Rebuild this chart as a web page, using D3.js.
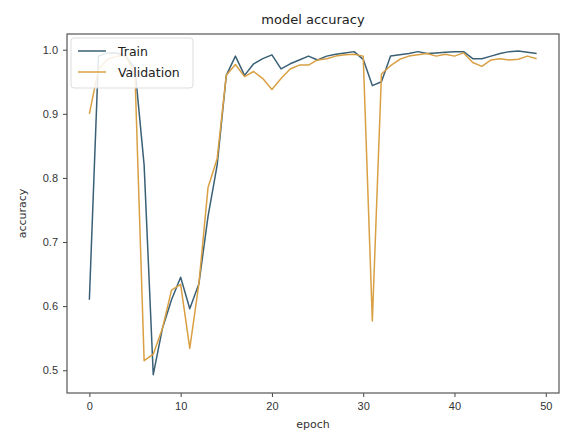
<!DOCTYPE html>
<html>
<head>
<meta charset="utf-8">
<script src="https://cdn.jsdelivr.net/npm/d3@7"></script>
<style>
  body { margin: 0; background: #fff; }
  svg { display: block; font-family: 'DejaVu Sans', sans-serif; }
</style>
</head>
<body>
<svg id="chart" width="568" height="432"></svg>
<script>
// values
var epochs = d3.range(50);
var trainAcc = [0.61, 0.99, 0.995, 0.995, 0.99, 0.97, 0.82, 0.493, 0.565, 0.61,
  0.645, 0.596, 0.635, 0.74, 0.82, 0.96, 0.99, 0.96, 0.978, 0.986,
  0.992, 0.97, 0.978, 0.984, 0.99, 0.984, 0.99, 0.993, 0.995, 0.997,
  0.985, 0.944, 0.95, 0.99, 0.992, 0.994, 0.997, 0.994, 0.995, 0.996,
  0.997, 0.997, 0.986, 0.986, 0.99, 0.994, 0.997, 0.998, 0.996, 0.994];
var valAcc = [0.90, 0.97, 0.985, 0.99, 0.99, 0.96, 0.515, 0.525, 0.565, 0.625,
  0.634, 0.534, 0.635, 0.785, 0.83, 0.96, 0.977, 0.958, 0.966, 0.955,
  0.938, 0.955, 0.97, 0.976, 0.976, 0.984, 0.986, 0.99, 0.992, 0.993,
  0.99, 0.577, 0.962, 0.975, 0.985, 0.99, 0.992, 0.994, 0.99, 0.993,
  0.99, 0.995, 0.98, 0.974, 0.984, 0.986, 0.984, 0.985, 0.99, 0.986];
var xTicks = [0, 10, 20, 30, 40, 50];
var yTicks = [0.5, 0.6, 0.7, 0.8, 0.9, 1.0];
var seriesNames = ['Train', 'Validation'];
var colours = ['#3a6076', '#d9a043'];

var svg = d3.select('#chart');
// plot box (note: "top" is taken by window.top, so use other names)
var plotL = 67, plotR = 559, plotT = 34, plotB = 393;

var x = d3.scaleLinear().domain([-2.45, 51.45]).range([plotL, plotR]);
var y = d3.scaleLinear().domain([0.4645, 1.0245]).range([plotB, plotT]);

// axes
svg.append('g')
  .attr('transform', 'translate(0,' + plotB + ')')
  .call(d3.axisBottom(x).tickValues(xTicks).tickFormat(d3.format('d')).tickSize(4).tickPadding(5))
  .call(function(g) { g.select('.domain').remove(); });

svg.append('g')
  .attr('transform', 'translate(' + plotL + ',0)')
  .call(d3.axisLeft(y).tickValues(yTicks).tickFormat(d3.format('.1f')).tickSize(4).tickPadding(5))
  .call(function(g) { g.select('.domain').remove(); });

svg.selectAll('.tick text')
  .style('font-size', '11px')
  .style('fill', '#333');
svg.selectAll('.tick line').attr('stroke', '#444');

// lines
var line = d3.line()
  .x(function(d, i) { return x(epochs[i]); })
  .y(function(d) { return y(d); });

[trainAcc, valAcc].forEach(function(s, k) {
  svg.append('path')
    .datum(s)
    .attr('fill', 'none')
    .attr('stroke', colours[k])
    .attr('stroke-width', 1.5)
    .attr('stroke-linejoin', 'round')
    .attr('d', line);
});

// frame
svg.append('rect')
  .attr('x', plotL).attr('y', plotT)
  .attr('width', plotR - plotL).attr('height', plotB - plotT)
  .attr('fill', 'none')
  .attr('stroke', '#555')
  .attr('stroke-width', 1.2);

// title and labels
svg.append('text')
  .attr('x', (plotL + plotR) / 2)
  .attr('y', 24)
  .attr('text-anchor', 'middle')
  .style('font-size', '13px')
  .style('fill', '#222')
  .text('model accuracy');

svg.append('text')
  .attr('x', (plotL + plotR) / 2)
  .attr('y', 428)
  .attr('text-anchor', 'middle')
  .style('font-size', '11px')
  .style('fill', '#333')
  .text('epoch');

svg.append('text')
  .attr('transform', 'translate(26,' + ((plotT + plotB) / 2) + ') rotate(-90)')
  .attr('text-anchor', 'middle')
  .style('font-size', '11px')
  .style('fill', '#333')
  .text('accuracy');

// legend
var legend = svg.append('g').attr('transform', 'translate(71,38)');
legend.append('rect')
  .attr('width', 122).attr('height', 50)
  .attr('rx', 3)
  .attr('fill', 'rgba(255,255,255,0.85)')
  .attr('stroke', '#ddd');
seriesNames.forEach(function(name, k) {
  var ly = 13 + k * 21;
  legend.append('line')
    .attr('x1', 7).attr('x2', 35)
    .attr('y1', ly).attr('y2', ly)
    .attr('stroke', colours[k])
    .attr('stroke-width', 1.5);
  legend.append('text')
    .attr('x', 47).attr('y', ly + 4.5)
    .style('font-size', '12.5px')
    .style('fill', '#222')
    .text(name);
});
</script>
</body>
</html>
